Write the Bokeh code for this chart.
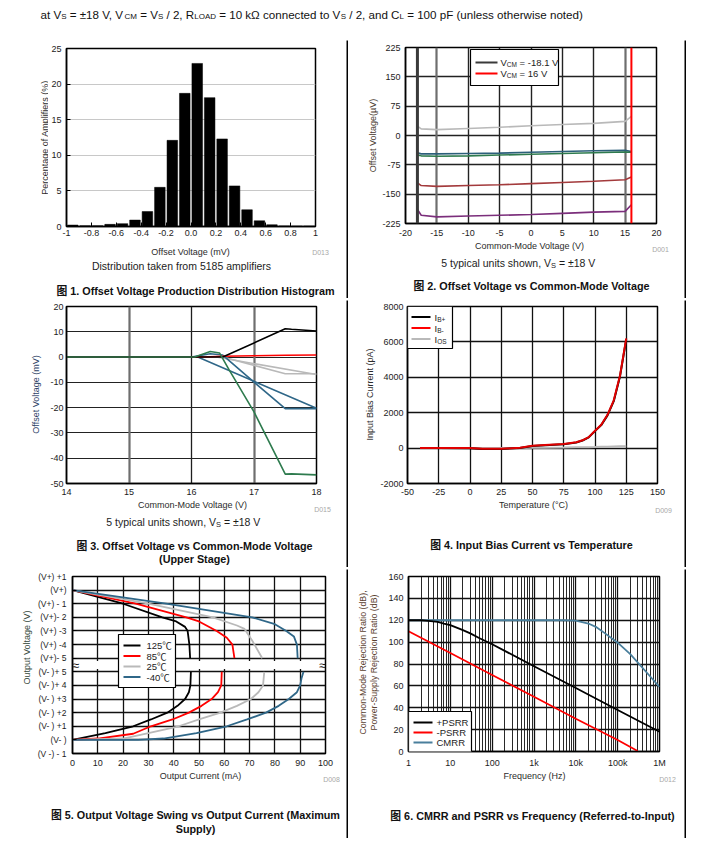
import math
from bokeh.plotting import figure
from bokeh.models import Label, BoxAnnotation, Range1d, FixedTicker, Span, Grid
from bokeh.layouts import column, row
from bokeh.embed import file_html
from bokeh.resources import INLINE

# ---------------------------------------------------------------- data
# Fig 1: offset voltage histogram
hist_bin_centers = [-0.95, -0.85, -0.75, -0.65, -0.55, -0.45, -0.35, -0.25, -0.15, -0.05,
                    0.05, 0.15, 0.25, 0.35, 0.45, 0.55, 0.65, 0.75, 0.85, 0.95]
hist_percent = [0.2, 0.1, 0.1, 0.3, 0.4, 0.9, 2.1, 5.5, 12.1, 18.7,
                22.9, 18.1, 12.3, 5.7, 2.35, 0.8, 0.25, 0.08, 0.05, 0.05]
hist_x_ticks = [-1.0, -0.8, -0.6, -0.4, -0.2, 0.0, 0.2, 0.4, 0.6, 0.8, 1.0]
hist_x_labels = ["-1", "-0.8", "-0.6", "-0.4", "-0.2", "0.0", "0.2", "0.4", "0.6", "0.8", "1"]
hist_y_ticks = [0, 5, 10, 15, 20, 25]
hist_y_labels = ["0", "5", "10", "15", "20", "25"]

# Fig 2: offset voltage vs common-mode voltage (uV)
cm_voltage = [-18.1, -17.5, -15, -10, -5, 0, 5, 10, 15, 16]
vos_unit_gray = [24, 17, 15, 18, 21, 25, 28, 31, 36, 49]
vos_unit_blue = [-44, -47, -47, -46, -45, -43, -41, -39, -38, -41]
vos_unit_green = [-50, -52, -53, -52, -50, -48, -46, -44, -42, -43]
vos_unit_brown = [-121, -128, -130, -128, -126, -123, -120, -117, -113, -106]
vos_unit_purple = [-189, -204, -208, -206, -204, -202, -199, -196, -194, -177]
vcm_low = -18.1
vcm_high = 16
f2_x_ticks = [-20, -15, -10, -5, 0, 5, 10, 15, 20]
f2_x_labels = ["-20", "-15", "-10", "-5", "0", "5", "10", "15", "20"]
f2_y_ticks = [-225, -150, -75, 0, 75, 150, 225]
f2_y_labels = ["-225", "-150", "-75", "0", "75", "150", "225"]
f2_dark_grid = [-10, -5, 0, 5, 10]
f2_light_grid = [-15, 15]

# Fig 3: offset voltage vs common-mode voltage, upper stage (mV)
up_black_x = [14, 16.5, 17.5, 17.6, 18]
up_black_y = [0, 0, 11.2, 11.0, 10.3]
up_red_x = [14, 16.2, 16.5, 17, 17.5, 18]
up_red_y = [0, 0, 0.3, 0.5, 0.7, 0.8]
up_gray1_x = [14, 16.5, 17.5, 18]
up_gray1_y = [0, 0, -6.6, -6.6]
up_gray2_x = [14, 16.4, 18]
up_gray2_y = [0, 0, -6.9]
up_blue1_x = [14, 16.0, 16.3, 16.5, 17, 17.5, 18]
up_blue1_y = [0, 0, 1.3, 0.8, -9.9, -20.4, -20.4]
up_blue2_x = [14, 16.1, 18]
up_blue2_y = [0, 0, -20.2]
up_green_x = [14, 16.05, 16.3, 16.45, 16.6, 17, 17.5, 17.6, 18]
up_green_y = [0, 0, 2.2, 1.6, -5, -21.7, -46.3, -46.2, -46.6]
f3_x_ticks = [14, 15, 16, 17, 18]
f3_x_labels = ["14", "15", "16", "17", "18"]
f3_y_ticks = [-50, -40, -30, -20, -10, 0, 10, 20]
f3_y_labels = ["-50", "-40", "-30", "-20", "-10", "0", "10", "20"]
f3_dark_grid = [16]
f3_light_grid = [15, 17]

# Fig 4: input bias current vs temperature (pA)
temperature = [-40, -25, 0, 10, 25, 40, 50, 60, 75, 85, 90, 95, 100, 105, 110, 115, 120, 125]
ib_plus = [0, 0, -10, -50, -50, 10, 120, 160, 220, 320, 430, 610, 960, 1300, 1850, 2650, 4050, 6150]
ib_minus = [0, 0, 0, -40, -40, 20, 130, 170, 230, 330, 440, 620, 980, 1320, 1880, 2700, 4100, 6200]
i_os = [0, 0, 0, 0, 5, 10, 20, 25, 35, 45, 50, 55, 60, 70, 80, 90, 100, 110]
f4_x_ticks = [-50, -25, 0, 25, 50, 75, 100, 125, 150]
f4_x_labels = ["-50", "-25", "0", "25", "50", "75", "100", "125", "150"]
f4_y_ticks = [-2000, 0, 2000, 4000, 6000, 8000]
f4_y_labels = ["-2000", "0", "2000", "4000", "6000", "8000"]

# Fig 5: output swing vs output current; y index: 11 = (V+), 0 = (V-)
swing_125_up_i = [0, 20, 35.5, 41, 44.5, 45.5, 46.2, 46.5]
swing_125_up_v = [11, 10, 9, 8.7, 8.3, 8, 7, 6]
swing_125_lo_i = [46.8, 46.6, 46, 44.5, 41.5, 37.5, 31, 24, 13, 0]
swing_125_lo_v = [5, 4, 3.5, 3, 2.5, 2, 1.5, 1, 0.5, 0]
swing_85_up_i = [0, 25, 45, 50, 57, 61, 63.2, 64]
swing_85_up_v = [11, 10, 9, 8.7, 8, 7.5, 7, 6]
swing_85_lo_i = [59, 58.8, 57.5, 55, 51, 46, 39.5, 31, 24, 10, 0]
swing_85_lo_v = [5, 4, 3.5, 3, 2.5, 2, 1.5, 1, 0.45, 0.1, 0]
swing_25_up_i = [0, 30, 55.5, 65, 68, 71, 75]
swing_25_up_v = [11, 10, 9, 8.4, 8.15, 7.3, 6]
swing_25_lo_i = [75.8, 75.3, 73.5, 70.5, 65, 58.5, 50, 42, 30, 20, 0]
swing_25_lo_v = [5, 4, 3.5, 3, 2.5, 2, 1.5, 1, 0.5, 0.1, 0]
swing_m40_up_i = [0, 37, 71, 80, 84.5, 87.5, 88.7, 89]
swing_m40_up_v = [11, 10, 9, 8.5, 8, 7.6, 7, 6]
swing_m40_lo_i = [91.3, 90.5, 90, 88.7, 85.5, 81.5, 76.5, 69, 61, 49, 36, 26, 0]
swing_m40_lo_v = [5, 4.5, 4, 3.5, 3, 2.5, 2, 1.5, 1, 0.5, 0.1, 0, 0]
f5_x_ticks = [0, 10, 20, 30, 40, 50, 60, 70, 80, 90, 100]
f5_x_labels = ["0", "10", "20", "30", "40", "50", "60", "70", "80", "90", "100"]
f5_y_ticks = [12, 11, 10, 9, 8, 7, 6, 5, 4, 3, 2, 1, 0, -1]
f5_y_labels = ["(V+) +1", "(V+)", "(V+) - 1", "(V+)- 2", "(V+) -3", "(V+) -4", "(V+)- 5",
               "(V- )+ 5", "(V- )+ 4", "(V- ) +3", "(V- ) +2", "(V- ) +1", "(V- )", "(V -) - 1"]
f5_break = 5.5

# Fig 6: CMRR / PSRR vs frequency (dB)
psrr_pos_f = [1, 2, 3, 5, 7, 10, 20, 30, 50, 100, 1e3, 1e4, 1e5, 1e6]
psrr_pos_db = [120, 120, 119.5, 118.5, 117, 115.5, 111, 108, 103.5, 98, 78, 58, 38, 18]
psrr_neg_f = [1, 10, 100, 1e3, 1e4, 1e5, 3e5]
psrr_neg_db = [110, 90, 70, 50, 30, 10.5, 0.5]
cmrr_f = [1, 100, 1e3, 5e3, 1e4, 2e4, 3e4, 5e4, 1e5, 2e5, 5e5, 1e6]
cmrr_db = [120, 120, 120, 120, 119.7, 117, 114, 108, 99.5, 89, 72, 59]
f6_x_ticks = [1, 10, 100, 1000, 10000, 100000, 1000000]
f6_x_labels = ["1", "10", "100", "1k", "10k", "100k", "1M"]
f6_y_ticks = [0, 20, 40, 60, 80, 100, 120, 140, 160]
f6_y_labels = ["0", "20", "40", "60", "80", "100", "120", "140", "160"]

# ---------------------------------------------------------------- style
FONT = "Liberation Sans"
CJK = "Liberation Sans, Noto Sans CJK SC"
TXT = "#1c1c1c"
CAP = "#111111"
C_BLACK = "#000000"
C_RED = "#ff0000"
C_GRAY = "#b9b9b9"
C_BLUE = "#2f6788"
C_GREEN = "#2e7b4e"
C_BROWN = "#a33a3c"
C_PURPLE = "#7b2e7b"
C_DGRAY = "#3a3a3a"
C_CMRR = "#4a7f9c"

W = {' ': 278, 'a': 556, 'b': 556, 'c': 500, 'd': 556, 'e': 556, 'f': 278, 'g': 556, 'h': 556,
     'i': 222, 'j': 222, 'k': 500, 'l': 222, 'm': 833, 'n': 556, 'o': 556, 'p': 556, 'q': 556,
     'r': 333, 's': 500, 't': 278, 'u': 556, 'v': 500, 'w': 722, 'x': 500, 'y': 500, 'z': 500,
     'A': 667, 'B': 667, 'C': 722, 'D': 722, 'E': 667, 'F': 611, 'I': 278, 'L': 556, 'M': 833,
     'O': 778, 'P': 667, 'R': 722, 'S': 667, 'T': 611, 'V': 667, '.': 278, ',': 278, '=': 584,
     '±': 584, '/': 278, '(': 333, ')': 333, '-': 333, '+': 584, 'Ω': 768, '℃': 1000}


def tw(s, size):
    return sum(W.get(ch, 556) for ch in s) * size / 1000.0


def txt(p, org, x, y, text, size=9.0, color=TXT, align="center", baseline="middle",
        angle=0.0, bold=False, font=FONT):
    p.add_layout(Label(x=x - org[0], y=y - org[1], x_units="canvas", y_units="canvas",
                       text=text, text_font=font, text_font_size=f"{size}px",
                       text_font_style="bold" if bold else "normal", text_color=color,
                       text_align=align, text_baseline=baseline, angle=angle, level="overlay"))


def rich(p, org, x, y, parts, size, sub, align="left", color=TXT, font=FONT):
    widths = [tw(t, sub if s else size) for t, s in parts]
    cx = x - sum(widths) / 2 if align == "center" else x
    for (t, s), w in zip(parts, widths):
        sz = sub if s else size
        lead = len(t) - len(t.lstrip(" "))
        txt(p, org, cx + tw(" " * lead, sz), y + (0.25 * size if s else 0), t.strip(" "), sz,
            color=color, align="left", font=font)
        cx += w


def cbox(p, org, x0, y0, x1, y1, fill=None, line=None, lw=1.0):
    p.add_layout(BoxAnnotation(left=x0 - org[0], right=x1 - org[0], top=y0 - org[1],
                               bottom=y1 - org[1], left_units="canvas", right_units="canvas",
                               top_units="canvas", bottom_units="canvas",
                               fill_color=fill if fill else "white", fill_alpha=1.0 if fill else 0.0,
                               line_color=line if line else "black", line_width=lw,
                               line_alpha=1.0 if line else 0.0, level="annotation"))


def legend(p, org, box, entries, xl0, xl1, xt, ys, size=9.5, sub=6.5, lw=2.0, font=FONT):
    cbox(p, org, *box, fill="white", line="black", lw=1.2)
    for (color, parts), y in zip(entries, ys):
        cbox(p, org, xl0, y - lw / 2, xl1, y + lw / 2, fill=color)
        rich(p, org, xt, y, parts, size, sub, font=font)


def blank_fig(w, h, bg="white"):
    p = figure(width=w, height=h, x_range=Range1d(0, w), y_range=Range1d(h, 0), title=None,
               output_backend="svg", toolbar_location=None, tools="", min_border=0,
               x_axis_location=None, y_axis_location=None)
    p.grid.visible = False
    p.outline_line_color = None
    p.background_fill_color = bg
    p.border_fill_color = bg
    return p


def make_fig(w, h, xr, yr, left, right, top, bottom, x_type="linear"):
    p = figure(width=w, height=h, x_range=xr, y_range=yr, x_axis_type=x_type, title=None,
               output_backend="svg", toolbar_location=None, tools="",
               min_border_left=left, min_border_right=right, min_border_top=top,
               min_border_bottom=bottom)
    p.background_fill_color = "white"
    p.border_fill_color = "white"
    p.outline_line_color = "black"
    p.outline_line_width = 1.5
    for ax in p.axis:
        ax.axis_line_color = "black"
        ax.axis_line_width = 1.5
        ax.major_tick_in = 0
        ax.major_tick_out = 0
        ax.minor_tick_in = 0
        ax.minor_tick_out = 0
        ax.major_label_text_font = FONT
        ax.major_label_text_font_size = "9px"
        ax.major_label_text_color = TXT
        ax.major_label_standoff = 5
    return p


def set_ticks(p, xt, xl, yt, yl, minor=None):
    tx = FixedTicker(ticks=xt, minor_ticks=minor or [])
    ty = FixedTicker(ticks=yt)
    p.xaxis[0].ticker = tx
    p.yaxis[0].ticker = ty
    p.xgrid[0].ticker = tx
    p.ygrid[0].ticker = ty
    p.xaxis[0].major_label_overrides = dict(zip(xt, xl))
    p.yaxis[0].major_label_overrides = dict(zip(yt, yl))


def split_xgrid(p, dark, light, dark_color, light_color, light_width):
    p.xgrid[0].ticker = FixedTicker(ticks=dark)
    p.add_layout(Grid(dimension=0, ticker=FixedTicker(ticks=light), grid_line_color=light_color,
                      grid_line_width=light_width))


def hline():
    p = blank_fig(686, 2)
    cbox(p, (0, 0), 32, 0.1, 686, 1.9, fill="black")
    return p


def vline(h):
    return blank_fig(2, h, bg="black")


# ---------------------------------------------------------------- header
hdr = blank_fig(686, 38)
header_parts = [("at V", 0), ("S", 1), (" = ±18 V, V", 0), ("CM", 1), (" = V", 0), ("S", 1),
                (" / 2, R", 0), ("LOAD", 1), (" = 10 kΩ connected to V", 0), ("S", 1),
                (" / 2, and C", 0), ("L", 1), (" = 100 pF (unless otherwise noted)", 0)]
rich(hdr, (0, 0), 40, 13.5, header_parts, 11.6, 8.0, color=CAP)

SUB_PARTS = [("5 typical units shown, V", 0), ("S", 1), (" = ±18 V", 0)]

# ---------------------------------------------------------------- fig 1
y1t = blank_fig(48, 202)
txt(y1t, (0, 40), 44, 137, "Percentage of Amplifiers (%)", 9, color="#2b2b2b", angle=math.pi / 2)
O1 = (48, 40)
p1 = make_fig(298, 202, Range1d(-1, 1), Range1d(0, 25), 17, 31, 8, 16)
p1.vbar(x=hist_bin_centers, top=hist_percent, width=0.085, fill_color="black",
        line_color="black", line_width=0.5)
set_ticks(p1, hist_x_ticks, hist_x_labels, hist_y_ticks, hist_y_labels)
p1.xgrid.grid_line_color = None
p1.ygrid.grid_line_color = "#c8c8c8"
p1.ygrid.grid_line_width = 1
p1.xaxis.major_tick_in = 4
p1.yaxis.major_tick_in = 4
p1.xaxis.major_label_standoff = 3
b1 = blank_fig(346, 56)
B1 = (0, 242)
txt(b1, B1, 190, 251, "Offset Voltage (mV)", 9, color="#2b2b2b")
txt(b1, B1, 320, 252, "D013", 7, color="#a8a8a8")
txt(b1, B1, 181, 265, "Distribution taken from 5185 amplifiers", 10.5)
txt(b1, B1, 195, 290, "图 1. Offset Voltage Production Distribution Histogram", 10.8,
    bold=True, font=CJK, color=CAP)
cell1 = column(row(y1t, p1), b1)

# ---------------------------------------------------------------- fig 2
y2t = blank_fig(31, 200)
txt(y2t, (348, 40), 372, 135, "Offset Voltage(µV)", 9, color="#4a3b30", angle=math.pi / 2)
O2 = (379, 40)
p2 = make_fig(305, 200, Range1d(-20, 20), Range1d(-225, 225), 26, 28, 7, 17)
set_ticks(p2, f2_x_ticks, f2_x_labels, f2_y_ticks, f2_y_labels)
for g in (p2.xgrid, p2.ygrid):
    g.grid_line_color = "#222222"
    g.grid_line_width = 1.4
split_xgrid(p2, f2_dark_grid, f2_light_grid, "#222222", "#6e6e6e", 2.2)
p2.xaxis.major_label_standoff = 6
p2.add_layout(Span(location=vcm_low, dimension="height", line_color=C_DGRAY, line_width=3))
for ys, c in ((vos_unit_gray, C_GRAY), (vos_unit_blue, "#2c5f7a"), (vos_unit_green, C_GREEN),
              (vos_unit_brown, C_BROWN), (vos_unit_purple, C_PURPLE)):
    p2.line(cm_voltage, ys, line_color=c, line_width=1.6)
p2.add_layout(Span(location=vcm_high, dimension="height", line_color=C_RED, line_width=2))
legend(p2, O2, (470, 49, 558, 85),
       [(C_DGRAY, [("V", 0), ("CM", 1), (" = -18.1 V", 0)]),
        (C_RED, [("V", 0), ("CM", 1), (" = 16 V", 0)])],
       475, 497, 500, [62, 73], lw=2.2)
b2 = blank_fig(336, 58)
B2 = (348, 240)
txt(b2, B2, 529, 245.5, "Common-Mode Voltage (V)", 9, color="#2b2b2b")
txt(b2, B2, 660, 249, "D001", 7, color="#a8a8a8")
rich(b2, B2, 518, 262, SUB_PARTS, 10.5, 7.5, align="center")
txt(b2, B2, 531, 285, "图 2. Offset Voltage vs Common-Mode Voltage", 10.8, bold=True, font=CJK,
    color=CAP)
cell2 = column(row(y2t, p2), b2)

# ---------------------------------------------------------------- fig 3
y3t = blank_fig(44, 199)
txt(y3t, (0, 300), 35, 394, "Offset Voltage (mV)", 9, color="#2d4266", angle=math.pi / 2)
O3 = (44, 300)
p3 = make_fig(302, 199, Range1d(14, 18), Range1d(-50, 20), 22, 30, 6, 16)
set_ticks(p3, f3_x_ticks, f3_x_labels, f3_y_ticks, f3_y_labels)
p3.xgrid.grid_line_color = "#1e1e1e"
p3.xgrid.grid_line_width = 1.3
split_xgrid(p3, f3_dark_grid, f3_light_grid, "#1e1e1e", "#6e6e6e", 2.2)
p3.ygrid.grid_line_color = "#222222"
p3.ygrid.grid_line_width = 1.2
p3.yaxis.major_label_standoff = 3
for xs, ys, c in ((up_gray1_x, up_gray1_y, C_GRAY), (up_gray2_x, up_gray2_y, C_GRAY),
                  (up_blue2_x, up_blue2_y, C_BLUE), (up_blue1_x, up_blue1_y, C_BLUE),
                  (up_red_x, up_red_y, C_RED), (up_black_x, up_black_y, C_BLACK),
                  (up_green_x, up_green_y, C_GREEN)):
    p3.line(xs, ys, line_color=c, line_width=1.6)
b3 = blank_fig(346, 68)
B3 = (0, 499)
txt(b3, B3, 192, 504.5, "Common-Mode Voltage (V)", 9, color="#2b2b2b")
txt(b3, B3, 322, 509, "D015", 7, color="#a8a8a8")
rich(b3, B3, 183, 521, SUB_PARTS, 10.5, 7.5, align="center")
txt(b3, B3, 194, 545, "图 3. Offset Voltage vs Common-Mode Voltage", 10.8, bold=True, font=CJK,
    color=CAP)
txt(b3, B3, 194, 558, "(Upper Stage)", 10.8, bold=True, font=CJK, color=CAP)
cell3 = column(row(y3t, p3), b3)

# ---------------------------------------------------------------- fig 4
y4t = blank_fig(29, 199)
txt(y4t, (348, 300), 369, 394, "Input Bias Current (pA)", 9, color="#2b2b2b", angle=math.pi / 2)
O4 = (377, 300)
p4 = make_fig(307, 199, Range1d(-50, 150), Range1d(-2000, 8000), 30, 27, 6, 16)
set_ticks(p4, f4_x_ticks, f4_x_labels, f4_y_ticks, f4_y_labels)
for g in (p4.xgrid, p4.ygrid):
    g.grid_line_color = "#111111"
    g.grid_line_width = 1.3
p4.yaxis.major_label_standoff = 4
p4.line(temperature, i_os, line_color=C_GRAY, line_width=2)
p4.line(temperature, ib_plus, line_color=C_BLACK, line_width=2)
p4.line(temperature, ib_minus, line_color="#e00000", line_width=2)
legend(p4, O4, (407, 306, 452, 348),
       [(C_BLACK, [("I", 0), ("B+", 1)]), (C_RED, [("I", 0), ("B-", 1)]),
        (C_GRAY, [("I", 0), ("OS", 1)])],
       411, 430, 434, [316.5, 327.5, 338.5], lw=2.0)
b4 = blank_fig(336, 68)
B4 = (348, 499)
txt(b4, B4, 533, 504.5, "Temperature (°C)", 9, color="#2b2b2b")
txt(b4, B4, 663, 510, "D009", 7, color="#a8a8a8")
txt(b4, B4, 531, 544, "图 4. Input Bias Current vs Temperature", 10.8, bold=True, font=CJK,
    color=CAP)
cell4 = column(row(y4t, p4), b4)

# ---------------------------------------------------------------- fig 5
y5t = blank_fig(34, 201)
txt(y5t, (0, 569), 26, 647, "Output Voltage (V)", 9, color="#35483a", angle=math.pi / 2)
O5 = (34, 569)
p5 = make_fig(312, 201, Range1d(0, 100), Range1d(-1, 12), 38, 21, 7, 17)
set_ticks(p5, f5_x_ticks, f5_x_labels, f5_y_ticks, f5_y_labels)
for g in (p5.xgrid, p5.ygrid):
    g.grid_line_color = "#111111"
    g.grid_line_width = 1.3
p5.yaxis.major_tick_in = 4
p5.yaxis.major_label_standoff = 6
p5.yaxis.major_label_text_font_size = "8.5px"
p5.xaxis.major_label_standoff = 6
p5.add_layout(BoxAnnotation(left=0.6, right=99.4, bottom=f5_break - 0.3, top=f5_break + 0.3,
                            fill_color="white", fill_alpha=1.0, line_alpha=0.0, level="underlay"))
for (ui, uv, li, lv), c in (((swing_125_up_i, swing_125_up_v, swing_125_lo_i, swing_125_lo_v), C_BLACK),
                            ((swing_85_up_i, swing_85_up_v, swing_85_lo_i, swing_85_lo_v), C_RED),
                            ((swing_25_up_i, swing_25_up_v, swing_25_lo_i, swing_25_lo_v), C_GRAY),
                            ((swing_m40_up_i, swing_m40_up_v, swing_m40_lo_i, swing_m40_lo_v), C_BLUE)):
    p5.line(ui, uv, line_color=c, line_width=1.8)
    p5.line(li, lv, line_color=c, line_width=1.8)
for bx in (1.2, 98.8):
    p5.add_layout(Label(x=bx, y=f5_break, text="≈", text_font=FONT, text_font_size="13px",
                        text_align="center", text_baseline="middle", text_color="#111111",
                        level="overlay"))
legend(p5, O5, (118, 634, 175, 687),
       [(C_BLACK, [("125℃", 0)]), (C_RED, [("85℃", 0)]), (C_GRAY, [("25℃", 0)]),
        (C_BLUE, [("-40℃", 0)])],
       123, 140, 146, [645, 655.5, 666, 676.5], lw=2.0, font=CJK)
b5 = blank_fig(346, 68)
B5 = (0, 770)
txt(b5, B5, 200, 775.5, "Output Current (mA)", 9, color="#2b2b2b")
txt(b5, B5, 331, 779, "D008", 7, color="#a8a8a8")
txt(b5, B5, 195, 814, "图 5. Output Voltage Swing vs Output Current (Maximum", 10.8, bold=True,
    font=CJK, color=CAP)
txt(b5, B5, 195, 828, "Supply)", 10.8, bold=True, font=CJK, color=CAP)
cell5 = column(row(y5t, p5), b5)

# ---------------------------------------------------------------- fig 6
y6t = blank_fig(36, 201)
txt(y6t, (348, 569), 362, 662, "Common-Mode Rejection Ratio (dB),", 8.8, color="#5a4130",
    angle=math.pi / 2)
txt(y6t, (348, 569), 373, 662, "Power-Supply Rejection Ratio (dB)", 8.8, color="#5a4130",
    angle=math.pi / 2)
O6 = (384, 569)
p6 = make_fig(300, 201, Range1d(1, 1e6), Range1d(0, 160), 24, 25, 7, 17, x_type="log")
minor_f = [m * 10 ** k for k in range(6) for m in range(2, 10)]
set_ticks(p6, f6_x_ticks, f6_x_labels, f6_y_ticks, f6_y_labels, minor=minor_f)
for g in (p6.xgrid, p6.ygrid):
    g.grid_line_color = "#111111"
    g.grid_line_width = 1.3
p6.xgrid.minor_grid_line_color = "#111111"
p6.xgrid.minor_grid_line_width = 0.9
p6.xaxis.major_label_standoff = 6
p6.line(cmrr_f, cmrr_db, line_color=C_CMRR, line_width=1.8)
p6.line(psrr_pos_f, psrr_pos_db, line_color=C_BLACK, line_width=1.8)
p6.line(psrr_neg_f, psrr_neg_db, line_color=C_RED, line_width=1.8)
legend(p6, O6, (408, 711, 471, 753),
       [(C_BLACK, [("+PSRR", 0)]), (C_RED, [("-PSRR", 0)]), (C_CMRR, [("CMRR", 0)])],
       413, 432, 436, [722, 732, 742], lw=2.0)
b6 = blank_fig(336, 68)
B6 = (348, 770)
txt(b6, B6, 534, 775.5, "Frequency (Hz)", 9, color="#2b2b2b")
txt(b6, B6, 667, 779, "D012", 7, color="#a8a8a8")
txt(b6, B6, 532, 815, "图 6. CMRR and PSRR vs Frequency (Referred-to-Input)", 10.8, bold=True,
    font=CJK, color=CAP)
cell6 = column(row(y6t, p6), b6)

layout = column(
    hdr,
    hline(),
    row(cell1, vline(258), cell2, vline(258)),
    hline(),
    row(cell3, vline(267), cell4, vline(267)),
    hline(),
    row(cell5, vline(269), cell6, vline(269)),
    hline(),
)
open("out.html", "w").write(file_html(layout, INLINE))
